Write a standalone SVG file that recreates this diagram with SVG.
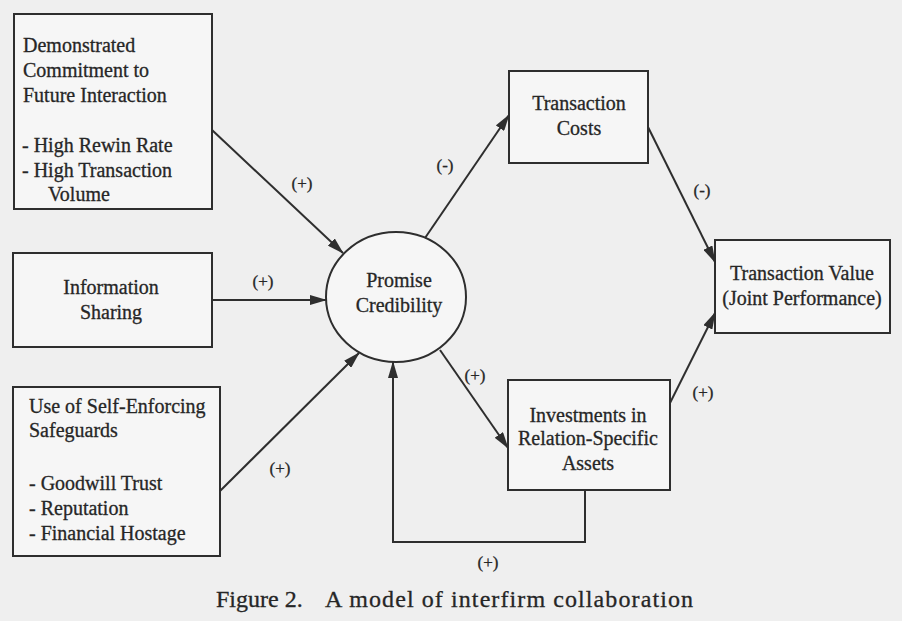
<svg xmlns="http://www.w3.org/2000/svg" width="902" height="621" viewBox="0 0 902 621">
<style>
.bg{fill:#efefef}
.box{fill:#f6f6f6;stroke:#2e2e2e;stroke-width:2}
.t{font-family:"Liberation Serif","Times New Roman",serif;font-size:20px;fill:#262626;stroke:#262626;stroke-width:0.3}
.c{text-anchor:middle}
.lbl{font-family:"Liberation Serif","Times New Roman",serif;font-size:17px;fill:#262626;stroke:#262626;stroke-width:0.3;text-anchor:middle}
.cap{font-family:"Liberation Serif","Times New Roman",serif;font-size:24px;fill:#262626;stroke:#262626;stroke-width:0.3}
.edge{fill:none;stroke:#2e2e2e;stroke-width:2}
</style>
<defs>
<marker id="ah" markerUnits="userSpaceOnUse" markerWidth="17" markerHeight="10" refX="16" refY="5" orient="auto">
<path d="M0,0 L17,5 L0,10 z" fill="#2e2e2e"/>
</marker>
</defs>
<rect class="bg" x="0" y="0" width="902" height="621"/>

<g id="commitment">
<rect class="box" x="14" y="14" width="198" height="195"/>
<text class="t" x="23" y="52">Demonstrated</text>
<text class="t" x="23" y="77">Commitment to</text>
<text class="t" x="23" y="102">Future Interaction</text>
<text class="t" x="22" y="152">- High Rewin Rate</text>
<text class="t" x="22" y="177">- High Transaction</text>
<text class="t" x="48" y="201">Volume</text>
</g>

<g id="information">
<rect class="box" x="13" y="253" width="199" height="94"/>
<text class="t c" x="111" y="294">Information</text>
<text class="t c" x="111" y="319">Sharing</text>
</g>

<g id="safeguards">
<rect class="box" x="13" y="387" width="207" height="169"/>
<text class="t" x="29" y="413">Use of Self-Enforcing</text>
<text class="t" x="29" y="437">Safeguards</text>
<text class="t" x="29" y="490">- Goodwill Trust</text>
<text class="t" x="29" y="515">- Reputation</text>
<text class="t" x="29" y="540">- Financial Hostage</text>
</g>

<g id="promise">
<ellipse class="box" cx="396" cy="297" rx="70" ry="65"/>
<text class="t c" x="399" y="287">Promise</text>
<text class="t c" x="399" y="312">Credibility</text>
</g>

<g id="costs">
<rect class="box" x="509" y="71" width="139" height="92"/>
<text class="t c" x="579" y="110">Transaction</text>
<text class="t c" x="579" y="135">Costs</text>
</g>

<g id="investments">
<rect class="box" x="508" y="380" width="162" height="110"/>
<text class="t c" x="588" y="422">Investments in</text>
<text class="t c" x="588" y="445">Relation-Specific</text>
<text class="t c" x="588" y="470">Assets</text>
</g>

<g id="value">
<rect class="box" x="715" y="240" width="175" height="93"/>
<text class="t c" x="802" y="280">Transaction Value</text>
<text class="t c" x="802" y="305">(Joint Performance)</text>
</g>

<g id="connectors">
<line class="edge" x1="212" y1="130" x2="343" y2="253" marker-end="url(#ah)"/>
<line class="edge" x1="212" y1="300" x2="326" y2="300" marker-end="url(#ah)"/>
<line class="edge" x1="220" y1="491" x2="359" y2="353" marker-end="url(#ah)"/>
<line class="edge" x1="425" y1="238" x2="509" y2="115" marker-end="url(#ah)"/>
<line class="edge" x1="440" y1="350" x2="508" y2="448" marker-end="url(#ah)"/>
<polyline class="edge" points="585,490 585,542 393,542 393,362" marker-end="url(#ah)"/>
<line class="edge" x1="648" y1="127" x2="715" y2="262" marker-end="url(#ah)"/>
<line class="edge" x1="670" y1="403" x2="715" y2="313" marker-end="url(#ah)"/>
<text class="lbl" x="302" y="189">(+)</text>
<text class="lbl" x="263" y="287">(+)</text>
<text class="lbl" x="280" y="474">(+)</text>
<text class="lbl" x="445" y="171">(-)</text>
<text class="lbl" x="475" y="381">(+)</text>
<text class="lbl" x="488" y="568">(+)</text>
<text class="lbl" x="702" y="196">(-)</text>
<text class="lbl" x="703" y="398">(+)</text>
</g>

<text class="cap" x="216" y="607">Figure 2.</text>
<text class="cap" x="325" y="607" textLength="368" lengthAdjust="spacing">A model of interfirm collaboration</text>
</svg>
